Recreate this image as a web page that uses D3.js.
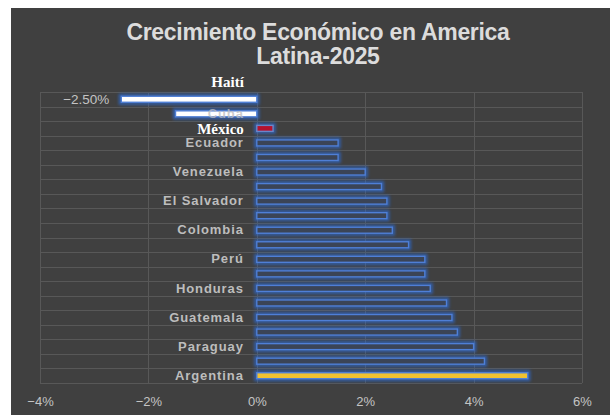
<!DOCTYPE html>
<html>
<head>
<meta charset="utf-8">
<script src="https://cdn.jsdelivr.net/npm/d3@7"></script>
<style>
  html, body { margin: 0; padding: 0; background: #ffffff; }
  svg { display: block; }
</style>
</head>
<body>
<div id="chart"></div>
<script>
// Crecimiento economico 2025 (%), ordered as in the chart (top to bottom)
const countries = ['Haití', 'Cuba', 'México', 'Ecuador', 'Bolivia', 'Venezuela', 'Uruguay',
  'El Salvador', 'Chile', 'Colombia', 'Brasil', 'Perú', 'Nicaragua', 'Honduras', 'Panamá',
  'Guatemala', 'R. Dominicana', 'Paraguay', 'Costa Rica', 'Argentina'];
const growth = [-2.5, -1.5, 0.3, 1.5, 1.5, 2.0, 2.3, 2.4, 2.4, 2.5, 2.8, 3.1, 3.1, 3.2, 3.5,
  3.6, 3.7, 4.0, 4.2, 5.0];
const xTicks = [-4, -2, 0, 2, 4, 6];
const titleLines = ['Crecimiento Económico en America', 'Latina-2025'];

const data = countries.map((c, i) => ({ country: c, value: growth[i] / 100 }));

const width = 610, height = 415;
const margin = { top: 92, left: 40, right: 28, bottom: 32 };

function fillFor(d) {
  if (d.country === 'Haití' || d.country === 'Cuba') return '#ffffff';
  if (d.country === 'México') return '#b5122e';
  if (d.country === 'Argentina') return '#f2c230';
  return '#3b4456';
}

const svg = d3.select('#chart').append('svg')
    .attr('width', width)
    .attr('height', height);

// glow around the bars
const defs = svg.append('defs');
defs.append('filter')
    .attr('id', 'glow')
    .attr('x', '-20%').attr('y', '-200%')
    .attr('width', '140%').attr('height', '500%')
  .append('feGaussianBlur')
    .attr('stdDeviation', 1.8);

svg.append('rect')
    .attr('x', 11).attr('y', 8)
    .attr('width', width - 11).attr('height', height - 8)
    .attr('fill', '#404040');

const xScale = d3.scaleLinear()
    .domain([xTicks[0] / 100, xTicks[xTicks.length - 1] / 100])
    .range([margin.left, width - margin.right]);

const yScale = d3.scaleBand()
    .domain(countries)
    .range([margin.top, height - margin.bottom]);

// title
svg.append('text')
    .attr('x', 318)
    .attr('y', 40)
    .attr('text-anchor', 'middle')
    .attr('font-family', 'Liberation Sans, Arial, sans-serif')
    .attr('font-weight', 'bold')
    .attr('font-size', 23)
    .attr('letter-spacing', -0.3)
    .attr('fill', '#dcdcdc')
  .selectAll('tspan')
  .data(titleLines)
  .enter().append('tspan')
    .attr('x', 318)
    .attr('dy', (d, i) => i === 0 ? 0 : 24)
    .text(d => d);

// grid
const grid = svg.append('g').attr('stroke', '#585858').attr('stroke-width', 1);
grid.selectAll('line.h')
  .data(d3.range(countries.length + 1))
  .enter().append('line')
    .attr('x1', xScale.range()[0])
    .attr('x2', xScale.range()[1])
    .attr('y1', i => Math.round(margin.top + i * yScale.step()) + 0.5)
    .attr('y2', i => Math.round(margin.top + i * yScale.step()) + 0.5);
grid.selectAll('line.v')
  .data(xTicks)
  .enter().append('line')
    .attr('x1', d => Math.round(xScale(d / 100)) + 0.5)
    .attr('x2', d => Math.round(xScale(d / 100)) + 0.5)
    .attr('y1', yScale.range()[0])
    .attr('y2', yScale.range()[1]);

// x axis
const xAxis = svg.append('g')
    .attr('transform', 'translate(0,' + (height - margin.bottom) + ')')
    .call(d3.axisBottom(xScale)
      .tickValues(xTicks.map(t => t / 100))
      .tickFormat(d3.format('.0%'))
      .tickSize(0)
      .tickPadding(14));
xAxis.select('.domain').remove();
xAxis.selectAll('text')
    .attr('font-family', 'Liberation Sans, Arial, sans-serif')
    .attr('font-size', 13)
    .attr('fill', '#c4c4c4');

const barH = 6;

// glow layer
svg.append('g').selectAll('rect')
  .data(data)
  .enter().append('rect')
    .attr('x', d => xScale(Math.min(0, d.value)) - 1)
    .attr('y', d => yScale(d.country) + yScale.bandwidth() / 2 - barH / 2 - 1)
    .attr('width', d => Math.abs(xScale(d.value) - xScale(0)) + 2)
    .attr('height', barH + 2)
    .attr('fill', 'none')
    .attr('stroke', '#2a6ee0')
    .attr('stroke-width', 3)
    .attr('opacity', 0.7)
    .attr('filter', 'url(#glow)');

// bars
svg.append('g').selectAll('rect')
  .data(data)
  .enter().append('rect')
    .attr('x', d => xScale(Math.min(0, d.value)))
    .attr('y', d => yScale(d.country) + yScale.bandwidth() / 2 - barH / 2)
    .attr('width', d => Math.abs(xScale(d.value) - xScale(0)))
    .attr('height', barH)
    .attr('fill', fillFor)
    .attr('stroke', d => d.country === 'México' ? '#6a86c8' : '#4f7fd6')
    .attr('stroke-width', 1.4);

// category axis, every second label (drawn over the bars, like Cuba)
const yAxis = svg.append('g')
    .attr('transform', 'translate(' + xScale(0) + ',0)')
    .call(d3.axisLeft(yScale)
      .tickValues(countries.filter((c, i) => i % 2 === 1))
      .tickSize(0)
      .tickPadding(13));
yAxis.select('.domain').remove();
yAxis.selectAll('text')
    .attr('font-family', 'Liberation Sans, Arial, sans-serif')
    .attr('font-weight', 'bold')
    .attr('font-size', 13)
    .attr('letter-spacing', 0.9)
    .attr('fill', '#bdbdbd')
    .attr('fill-opacity', c => c === 'Cuba' ? 0.75 : 1);

// data label for Haiti
const haiti = data[0];
svg.append('text')
    .attr('x', xScale(haiti.value) - 12)
    .attr('y', yScale(haiti.country) + yScale.bandwidth() / 2)
    .attr('dy', '0.35em')
    .attr('text-anchor', 'end')
    .attr('font-family', 'Liberation Sans, Arial, sans-serif')
    .attr('font-size', 13.5)
    .attr('fill', '#c4c4c4')
    .text(d3.format('.2%')(haiti.value));

// hand-placed labels
const notes = [
  { country: 'Haití', dy: -18 },
  { country: 'México', dy: 0 }
];
svg.append('g').selectAll('text')
  .data(notes)
  .enter().append('text')
    .attr('x', xScale(0) - 13)
    .attr('y', d => yScale(d.country) + yScale.bandwidth() / 2 + d.dy)
    .attr('dy', '0.35em')
    .attr('text-anchor', 'end')
    .attr('font-family', 'Liberation Serif, Times New Roman, serif')
    .attr('font-weight', 'bold')
    .attr('font-size', 15)
    .attr('fill', '#ffffff')
    .text(d => d.country);
</script>
</body>
</html>
